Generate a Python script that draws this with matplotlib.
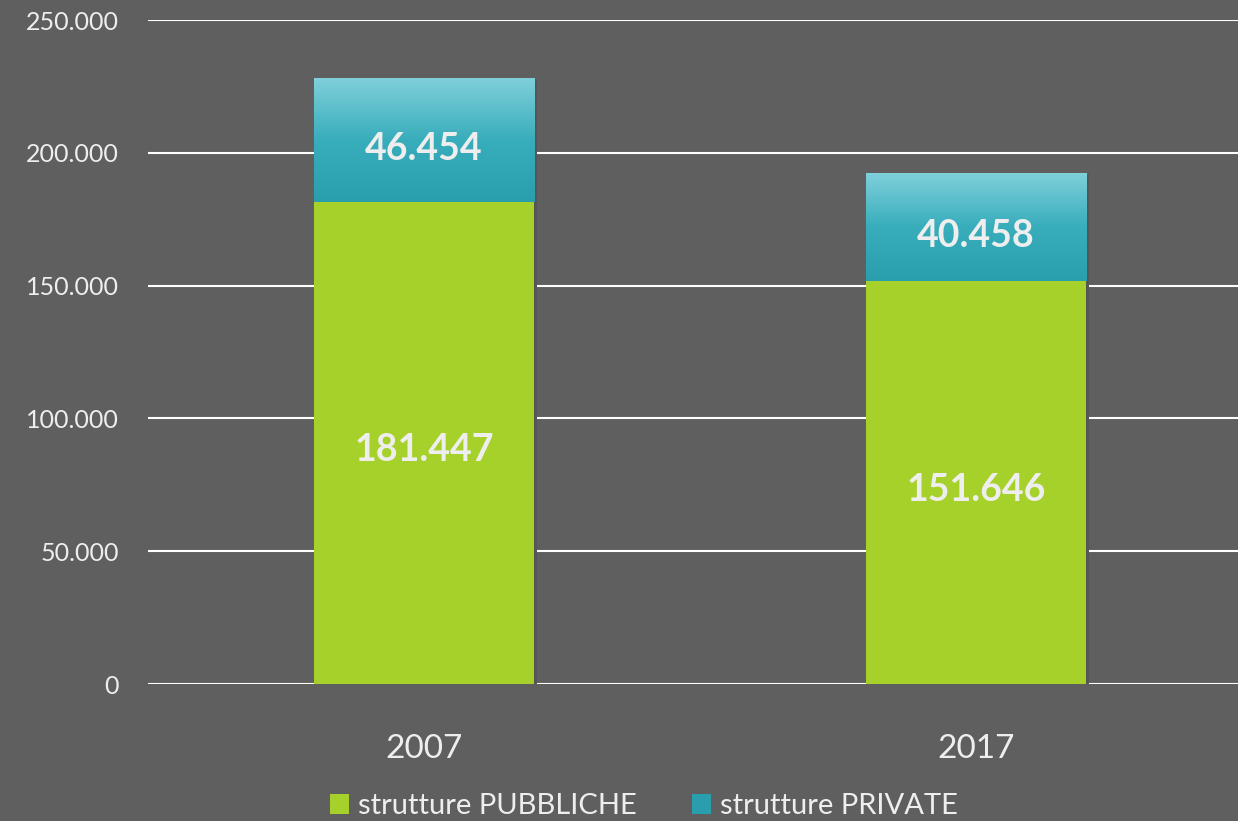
import numpy as np
import matplotlib
matplotlib.use("Agg")
import matplotlib.pyplot as plt
from matplotlib.colors import LinearSegmentedColormap
from matplotlib.patches import Patch

years = ["2007", "2017"]
pubbliche = [181447, 151646]
private = [46454, 40458]
yticks = [0, 50000, 100000, 150000, 200000, 250000]
ytick_labels = ["0", "50.000", "100.000", "150.000", "200.000", "250.000"]
series_names = ["strutture PUBBLICHE", "strutture PRIVATE"]

bg = "#5f5f5f"
green = "#a6d12a"
teal_top = "#7fd0db"
teal_bot = "#2a9eac"
txt = "#eeeeee"

plt.rcParams['font.family'] = ['Lato', 'DejaVu Sans']

fig = plt.figure(figsize=(12.38, 8.21), dpi=100, facecolor=bg)
ax = fig.add_axes([148 / 1238, 137 / 821, 1090 / 1238, 664 / 821])
ax.set_facecolor(bg)

x = np.arange(len(years))
w = 0.40

# soft shadow on the right side of the bars
ax.bar(x + 0.004, np.add(pubbliche, private), w, color="#555555", zorder=1)

b1 = ax.bar(x, pubbliche, w, color=green, zorder=2)
b2 = ax.bar(x, private, w, bottom=pubbliche, color="none", zorder=2)

cmap = LinearSegmentedColormap.from_list("t", [teal_bot, "#38adbb", teal_top])
grad = np.linspace(0, 1, 256).reshape(-1, 1)
for p in b2:
    x0, y0 = p.get_x(), p.get_y()
    ax.imshow(grad, cmap=cmap, aspect="auto", origin="lower",
              extent=(x0, x0 + p.get_width(), y0, y0 + p.get_height()), zorder=2)

def fmt(v):
    return f"{v:,}".replace(",", ".")

for i in range(len(years)):
    ax.annotate(fmt(pubbliche[i]), (x[i], pubbliche[i] / 2), xytext=(0, -5),
                textcoords="offset points", ha="center", va="center", color=txt,
                fontsize=27, fontweight="bold", zorder=3)
    ax.annotate(fmt(private[i]), (x[i], pubbliche[i] + private[i] / 2), xytext=(0, -6),
                textcoords="offset points", ha="center", va="center", color=txt,
                fontsize=27, fontweight="bold", zorder=3)

ax.set_xlim(-0.5, -0.5 + 1090 / 552)
ax.set_ylim(0, 250000)
ax.set_yticks(yticks)
ax.set_yticklabels(ytick_labels)
ax.set_xticks(x)
ax.set_xticklabels(years)
ax.yaxis.grid(True, color="white", linewidth=1.5, zorder=0)
ax.set_axisbelow(True)
for s in ax.spines.values():
    s.set_visible(False)
ax.tick_params(axis="y", length=0, pad=21, labelsize=18, labelcolor=txt)
ax.tick_params(axis="x", length=0, pad=36, labelsize=24, labelcolor=txt)

handles = [Patch(facecolor=green), Patch(facecolor=teal_bot)]
fig.legend(handles, series_names, loc="lower center", bbox_to_anchor=(0.52, -0.03),
           ncol=2, frameon=False, fontsize=21, labelcolor=txt,
           handlelength=0.65, handleheight=0.7, handletextpad=0.3, columnspacing=1.9)

fig.savefig("out.png", dpi=100, facecolor=bg)
